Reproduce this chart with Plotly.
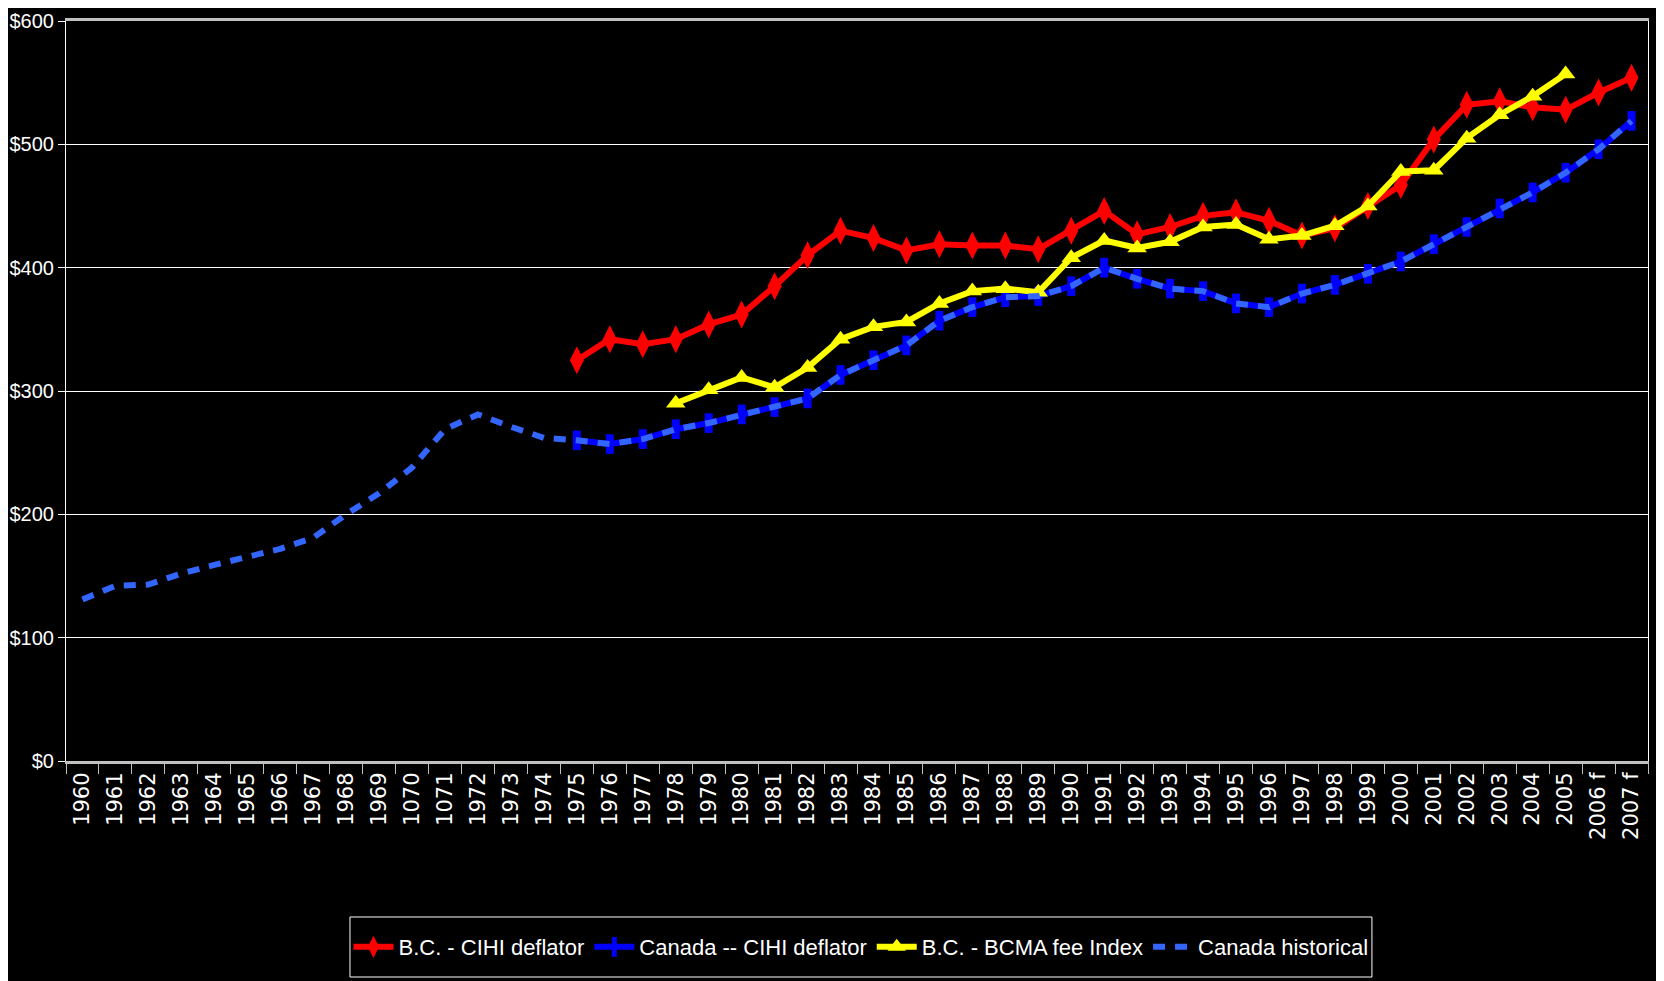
import plotly.graph_objects as go

years = ["1960", "1961", "1962", "1963", "1964", "1965", "1966", "1967", "1968", "1969",
         "1070", "1071", "1972", "1973", "1974", "1975", "1976", "1977", "1978", "1979",
         "1980", "1981", "1982", "1983", "1984", "1985", "1986", "1987", "1988", "1989",
         "1990", "1991", "1992", "1993", "1994", "1995", "1996", "1997", "1998", "1999",
         "2000", "2001", "2002", "2003", "2004", "2005", "2006 f", "2007 f"]

# B.C. - CIHI deflator (1975 .. 2007 f)
bc_cihi = [325, 342, 338, 342, 354, 362, 385, 410, 430, 424,
           414, 419, 418, 418, 415, 430, 446, 427, 433, 442,
           445, 438, 426, 432, 450, 467, 504, 532, 535, 530,
           528, 542, 554]

# Canada -- CIHI deflator (1975 .. 2007 f)
canada_cihi = [260, 257, 261, 269, 274, 281, 287, 294, 313, 325,
               337, 357, 368, 376, 377, 385, 400, 391, 383, 381,
               371, 368, 379, 386, 395, 405, 419, 433, 448, 461,
               477, 496, 519]

# B.C. - BCMA fee Index (1978 .. 2005)
bc_bcma = [290, 301, 311, 303, 319, 342, 352, 356, 371, 381,
           383, 380, 408, 422, 416, 421, 433, 435, 423, 426,
           434, 450, 478, 479, 505, 524, 539, 557]

# Canada historical (1960 .. 2007 f)
canada_hist = [131, 142, 143, 152, 159, 166, 172, 181, 200, 217,
               238, 269, 281, 271, 262, 260, 257, 261, 269, 274,
               281, 287, 294, 313, 325, 337, 357, 368, 376, 377,
               385, 400, 391, 383, 381, 371, 368, 379, 386, 395,
               405, 419, 433, 448, 461, 477, 496, 519]

x_bc = years[years.index("1975"):]
x_bcma = years[years.index("1978"):years.index("2005") + 1]

sans = "Liberation Sans, Arial, sans-serif"

fig = go.Figure()
fig.add_trace(go.Scatter(
    x=x_bc, y=bc_cihi, name="B.C. - CIHI deflator", mode="lines+markers",
    line=dict(color="#FF0000", width=6),
    marker=dict(symbol="diamond-tall", size=20, color="#FF0000")))
fig.add_trace(go.Scatter(
    x=x_bc, y=canada_cihi, name="Canada -- CIHI deflator", mode="lines+markers",
    line=dict(color="#0000FF", width=6),
    marker=dict(symbol="line-ns", size=14, color="#0000FF",
                line=dict(color="#0000FF", width=8))))
fig.add_trace(go.Scatter(
    x=x_bcma, y=bc_bcma, name="B.C. - BCMA fee Index", mode="lines+markers",
    line=dict(color="#FFFF00", width=6),
    marker=dict(symbol="triangle-up", size=17, color="#FFFF00")))
fig.add_trace(go.Scatter(
    x=years, y=canada_hist, name="Canada historical", mode="lines",
    line=dict(color="#3366FF", width=6, dash="12px,10px")))

fig.update_layout(
    width=1656, height=973,
    paper_bgcolor="#000000", plot_bgcolor="#000000",
    margin=dict(l=58, r=16, t=13, b=220),
    font=dict(family=sans, color="#FFFFFF", size=22),
    showlegend=True,
    legend=dict(orientation="h", x=0.5025, xanchor="center", y=-0.2514, yanchor="middle",
                borderwidth=0, bgcolor="rgba(0,0,0,0)",
                font=dict(family=sans, size=22, color="#FFFFFF"),
                itemwidth=40, tracegroupgap=0),
    shapes=[dict(type="rect", xref="paper", yref="paper",
                 x0=0.1795, x1=0.8255, y0=-0.2919, y1=-0.2108,
                 line=dict(color="#FFFFFF", width=1), fillcolor="rgba(0,0,0,0)",
                 layer="below")],
)
fig.update_xaxes(
    type="category", categoryorder="array", categoryarray=years,
    range=[-0.5, len(years) - 0.5], automargin=False,
    showgrid=False, showline=True, linecolor="#C0C0C0", linewidth=3, mirror=True,
    ticks="outside", tickson="boundaries", ticklen=10, tickcolor="#C0C0C0", tickwidth=1,
    tickangle=-90, tickfont=dict(family="DejaVu Sans, sans-serif", size=21, color="#FFFFFF"),
    zeroline=False)
fig.update_yaxes(
    range=[0, 600], dtick=100, tickprefix="$", automargin=False,
    showgrid=True, gridcolor="#FFFFFF", gridwidth=1,
    showline=True, linecolor="#FFFFFF", linewidth=1, mirror=True,
    ticks="outside", ticklen=7, tickcolor="#FFFFFF",
    tickfont=dict(family=sans, size=20, color="#FFFFFF"),
    zeroline=False)

fig.write_html("out.html")
